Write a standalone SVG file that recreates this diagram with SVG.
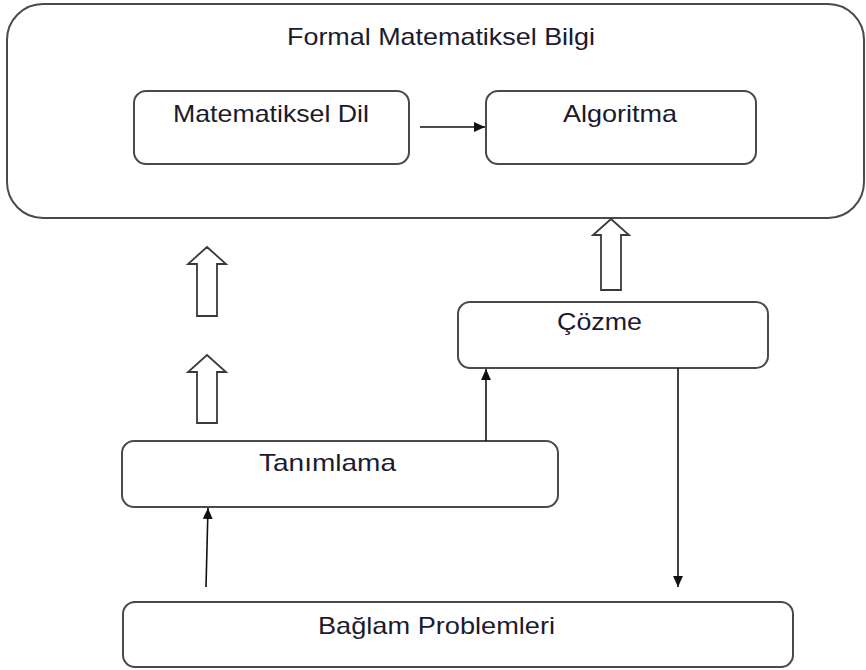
<svg xmlns="http://www.w3.org/2000/svg" width="866" height="670" viewBox="0 0 866 670">
  <style>
    .box { fill: #ffffff; stroke: #4a4a4a; stroke-width: 2; }
    .lbl { font-family: "Liberation Sans", Arial, sans-serif; font-size: 24px; fill: #1c1a2e; }
    .link { stroke: #111111; stroke-width: 1.6; fill: none; marker-end: url(#head); }
    .block { fill: #ffffff; stroke: #3a3a3a; stroke-width: 1.8; stroke-linejoin: miter; }
  </style>
  <defs>
    <marker id="head" viewBox="0 0 10 10" refX="10" refY="5" markerWidth="11" markerHeight="11" markerUnits="userSpaceOnUse" orient="auto">
      <path d="M0,0.5 L10,5 L0,9.5 z" fill="#111111"/>
    </marker>
  </defs>
  <rect width="866" height="670" fill="#ffffff"/>

  <g id="formal-bilgi">
    <rect class="box" x="7" y="4" width="857" height="214" rx="36" ry="36"/>
    <text class="lbl" x="287" y="45" textLength="308" lengthAdjust="spacingAndGlyphs">Formal Matematiksel Bilgi</text>
  </g>

  <g id="matematiksel-dil">
    <rect class="box" x="134" y="91" width="275" height="73" rx="12" ry="12"/>
    <text class="lbl" x="173" y="122" textLength="196" lengthAdjust="spacingAndGlyphs">Matematiksel Dil</text>
  </g>

  <g id="algoritma">
    <rect class="box" x="486" y="91" width="270" height="73" rx="12" ry="12"/>
    <text class="lbl" x="563" y="122" textLength="114" lengthAdjust="spacingAndGlyphs">Algoritma</text>
  </g>

  <g id="cozme">
    <rect class="box" x="458" y="302" width="310" height="66" rx="12" ry="12"/>
    <text class="lbl" x="557" y="330" textLength="85" lengthAdjust="spacingAndGlyphs">Çözme</text>
  </g>

  <g id="tanimlama">
    <rect class="box" x="122" y="441" width="436" height="66" rx="12" ry="12"/>
    <text class="lbl" x="259" y="471" textLength="137" lengthAdjust="spacingAndGlyphs">Tanımlama</text>
  </g>

  <g id="baglam-problemleri">
    <rect class="box" x="123" y="602" width="670" height="65" rx="12" ry="12"/>
    <text class="lbl" x="318" y="634" textLength="237" lengthAdjust="spacingAndGlyphs">Bağlam Problemleri</text>
  </g>

  <!-- hollow block arrows -->
  <g id="block-arrows">
    <path class="block" d="M207,247 L226,264 L217,264 L217,316 L197,316 L197,264 L188,264 Z"/>
    <path class="block" d="M207,355 L226,372 L217,372 L217,423 L197,423 L197,372 L188,372 Z"/>
    <path class="block" d="M611,219 L629,235 L621,235 L621,290 L601,290 L601,235 L593,235 Z"/>
  </g>

  <g id="connectors">
    <line class="link" x1="420" y1="127" x2="485" y2="127"/>
    <line class="link" x1="486" y1="441" x2="486" y2="369"/>
    <line class="link" x1="678" y1="368" x2="678" y2="587"/>
    <line class="link" x1="206" y1="587" x2="208" y2="508"/>
  </g>
</svg>
